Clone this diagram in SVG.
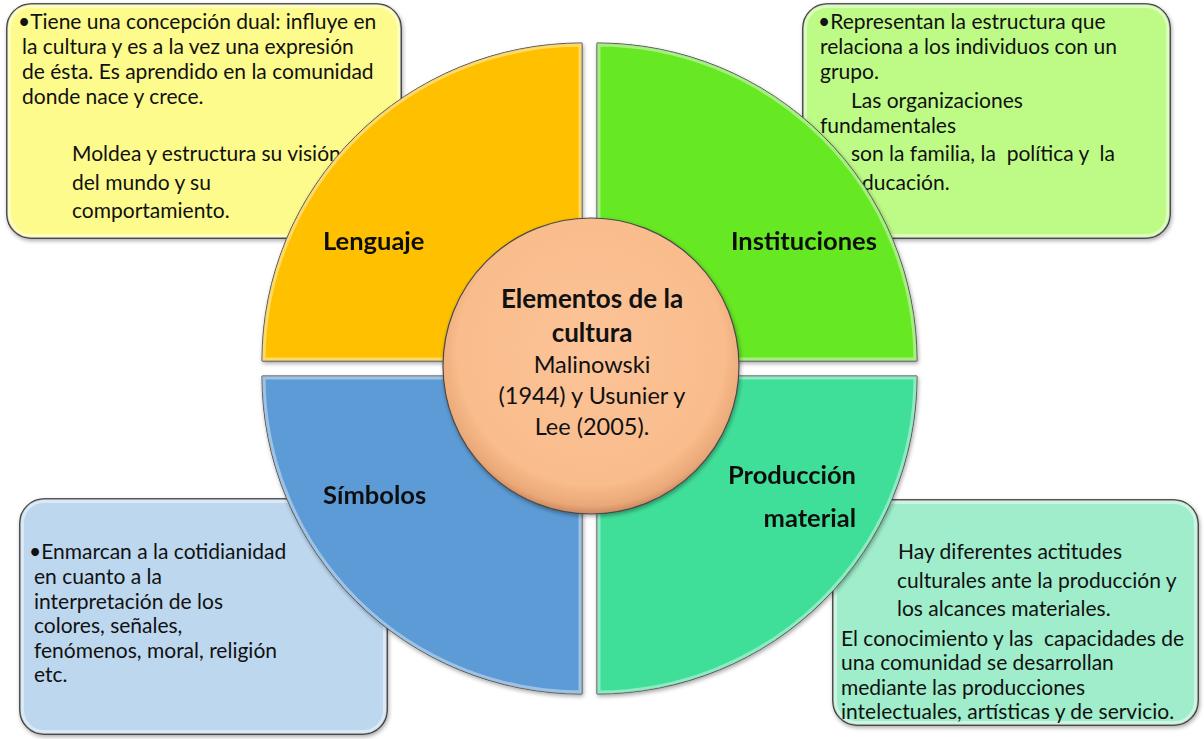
<svg xmlns="http://www.w3.org/2000/svg" width="1204" height="739" viewBox="0 0 1204 739">
  <defs>
    <style>
      .t { font-family: Lato, "Open Sans", "Liberation Sans", sans-serif; font-size: 21px; fill: #111; white-space: pre; }
      .lbl { font-family: Lato, "Open Sans", "Liberation Sans", sans-serif; font-size: 25.5px; font-weight: bold; fill: #111; }
      .ct { font-family: Lato, "Open Sans", "Liberation Sans", sans-serif; font-size: 23.5px; fill: #111; text-anchor: middle; }
      .ctb { font-family: Lato, "Open Sans", "Liberation Sans", sans-serif; font-size: 26px; font-weight: bold; fill: #111; text-anchor: middle; }
      .box { stroke: #2a2a2a; stroke-width: 1.6; }
      .boxhl { fill: none; stroke: #ffffff; stroke-opacity: 0.45; stroke-width: 8; }
      .q { stroke: #3a3a3a; stroke-width: 1; }
      .qhl { fill: none; stroke: #ffffff; stroke-opacity: 0.4; stroke-width: 7; }
    </style>
    <filter id="sh" x="-10%" y="-10%" width="120%" height="125%">
      <feGaussianBlur in="SourceAlpha" stdDeviation="2"/>
      <feOffset dx="1" dy="2" result="b"/>
      <feComponentTransfer><feFuncA type="linear" slope="0.35"/></feComponentTransfer>
      <feMerge><feMergeNode/><feMergeNode in="SourceGraphic"/></feMerge>
    </filter>
    <radialGradient id="cg" cx="50%" cy="45%" r="55%">
      <stop offset="0" stop-color="#FCC498"/>
      <stop offset="0.82" stop-color="#F9BC8C"/>
      <stop offset="0.95" stop-color="#EAA878"/>
      <stop offset="1" stop-color="#C98860"/>
    </radialGradient>
    <clipPath id="cTL"><path d="M582,361 L262,361 A320,318 0 0 1 582,43 Z"/></clipPath>
    <clipPath id="cTR"><path d="M597,361 L597,43 A320,318 0 0 1 917,361 Z"/></clipPath>
    <clipPath id="cBR"><path d="M597,376 L917,376 A320,318 0 0 1 597,694 Z"/></clipPath>
    <clipPath id="cBL"><path d="M582,376 L582,694 A320,318 0 0 1 262,376 Z"/></clipPath>
    <clipPath id="bTL"><rect x="7" y="4" width="394" height="234" rx="24"/></clipPath>
    <clipPath id="bTR"><rect x="803" y="4" width="367" height="234" rx="24"/></clipPath>
    <clipPath id="bBL"><rect x="20" y="499" width="367" height="235" rx="24"/></clipPath>
    <clipPath id="bBR"><rect x="833" y="500" width="365" height="225" rx="24"/></clipPath>
  </defs>

  <!-- Text boxes (behind quadrants) -->
  <g id="box-lenguaje">
    <rect class="box" x="7" y="4" width="394" height="234" rx="24" fill="#FDFB8C" filter="url(#sh)"/>
    <rect class="boxhl" x="7" y="4" width="394" height="234" rx="24" clip-path="url(#bTL)"/>
    <text class="t">
      <tspan x="18" y="29">•Tiene una concepción dual: influye en</tspan>
      <tspan x="22" y="54">la cultura y es a la vez una expresión</tspan>
      <tspan x="22" y="79">de ésta. Es aprendido en la comunidad</tspan>
      <tspan x="22" y="104">donde nace y crece.</tspan>
      <tspan x="72" y="161">Moldea y estructura su visión</tspan>
      <tspan x="72" y="190">del mundo y su</tspan>
      <tspan x="72" y="218">comportamiento.</tspan>
    </text>
  </g>

  <g id="box-instituciones">
    <rect class="box" x="803" y="4" width="367" height="234" rx="24" fill="#BEFB86" filter="url(#sh)"/>
    <rect class="boxhl" x="803" y="4" width="367" height="234" rx="24" clip-path="url(#bTR)"/>
    <text class="t">
      <tspan x="818" y="29">•Representan la estructura que</tspan>
      <tspan x="820" y="54">relaciona a los individuos con un</tspan>
      <tspan x="820" y="79">grupo.</tspan>
      <tspan x="851" y="108">Las organizaciones</tspan>
      <tspan x="820" y="133">fundamentales</tspan>
      <tspan x="851" y="161">son la familia, la  política y  la</tspan>
      <tspan x="851" y="190">educación.</tspan>
    </text>
  </g>

  <g id="box-simbolos">
    <rect class="box" x="20" y="499" width="367" height="235" rx="24" fill="#BDD7EE" filter="url(#sh)"/>
    <rect class="boxhl" x="20" y="499" width="367" height="235" rx="24" clip-path="url(#bBL)"/>
    <text class="t">
      <tspan x="29" y="559">•Enmarcan a la cotidianidad</tspan>
      <tspan x="34" y="584">en cuanto a la</tspan>
      <tspan x="34" y="609">interpretación de los</tspan>
      <tspan x="34" y="633">colores, señales,</tspan>
      <tspan x="34" y="658">fenómenos, moral, religión</tspan>
      <tspan x="34" y="682">etc.</tspan>
    </text>
  </g>

  <g id="box-produccion">
    <rect class="box" x="833" y="500" width="365" height="225" rx="24" fill="#A0EDCB" filter="url(#sh)"/>
    <rect class="boxhl" x="833" y="500" width="365" height="225" rx="24" clip-path="url(#bBR)"/>
    <text class="t">
      <tspan x="898" y="559">Hay diferentes actitudes</tspan>
      <tspan x="897" y="588">culturales ante la producción y</tspan>
      <tspan x="897" y="616">los alcances materiales.</tspan>
      <tspan x="841" y="646">El conocimiento y las  capacidades de</tspan>
      <tspan x="841" y="670">una comunidad se desarrollan</tspan>
      <tspan x="841" y="695">mediante las producciones</tspan>
      <tspan x="841" y="719">intelectuales, artísticas y de servicio.</tspan>
    </text>
  </g>

  <!-- Quadrants -->
  <g id="q-lenguaje" filter="url(#sh)">
    <path class="q" d="M582,361 L262,361 A320,318 0 0 1 582,43 Z" fill="#FFC000"/>
    <path class="qhl" d="M582,361 L262,361 A320,318 0 0 1 582,43 Z" clip-path="url(#cTL)"/>
    <text class="lbl" x="323" y="250">Lenguaje</text>
  </g>
  <g id="q-instituciones" filter="url(#sh)">
    <path class="q" d="M597,361 L597,43 A320,318 0 0 1 917,361 Z" fill="#66E823"/>
    <path class="qhl" d="M597,361 L597,43 A320,318 0 0 1 917,361 Z" clip-path="url(#cTR)"/>
    <text class="lbl" x="731" y="250">Instituciones</text>
  </g>
  <g id="q-simbolos" filter="url(#sh)">
    <path class="q" d="M582,376 L582,694 A320,318 0 0 1 262,376 Z" fill="#5B9BD5"/>
    <path class="qhl" d="M582,376 L582,694 A320,318 0 0 1 262,376 Z" clip-path="url(#cBL)"/>
    <text class="lbl" x="323" y="504">Símbolos</text>
  </g>
  <g id="q-produccion" filter="url(#sh)">
    <path class="q" d="M597,376 L917,376 A320,318 0 0 1 597,694 Z" fill="#3FDF99"/>
    <path class="qhl" d="M597,376 L917,376 A320,318 0 0 1 597,694 Z" clip-path="url(#cBR)"/>
    <text class="lbl" text-anchor="end" x="856" y="484">Producción</text>
    <text class="lbl" text-anchor="end" x="856" y="527">material</text>
  </g>

  <!-- Center node -->
  <g id="center">
    <circle cx="591" cy="366" r="148" fill="url(#cg)" stroke="#4a4a4a" stroke-width="1.2" filter="url(#sh)"/>
    <text class="ctb" x="592" y="308">Elementos de la</text>
    <text class="ctb" x="592" y="342">cultura</text>
    <text class="ct" x="592" y="373">Malinowski</text>
    <text class="ct" x="592" y="404">(1944) y Usunier y</text>
    <text class="ct" x="592" y="435">Lee (2005).</text>
  </g>

  <g id="connectors"></g>
</svg>
